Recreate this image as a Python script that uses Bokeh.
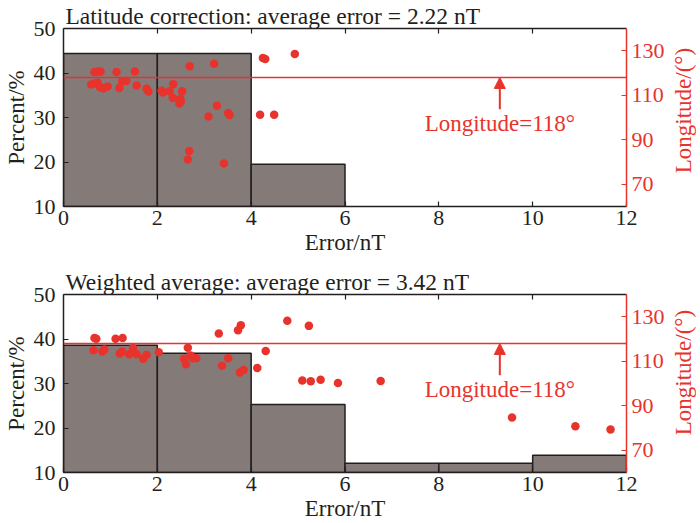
import math
from bokeh.plotting import figure
from bokeh.models import Range1d, LinearAxis, Span, Arrow, NormalHead, Label, FixedTicker
from bokeh.layouts import column, row
from bokeh.core.properties import value
from bokeh.embed import file_html
from bokeh.resources import INLINE

# ---------------- data ----------------
bin_edges = [0, 2, 4, 6, 8, 10, 12]

top_title = "Latitude correction: average error = 2.22 nT"
top_pct = [44.4, 44.4, 19.5]
top_err = [0.59, 0.66, 0.66, 0.73, 0.73, 0.78, 0.79, 0.85, 0.94, 1.13, 1.19, 1.25, 1.34, 1.52,
           1.56, 1.77, 1.81, 2.09, 2.12, 2.26, 2.33, 2.34, 2.47, 2.49, 2.50, 2.53, 2.65, 2.68,
           2.69, 3.09, 3.21, 3.27, 3.42, 3.51, 3.54, 4.19, 4.25, 4.30, 4.49, 4.93]
top_lon = [114.8, 120.4, 115.3, 120.7, 115.6, 113.6, 120.7, 113.2, 113.9, 120.4, 113.3, 116.2,
           116.4, 120.7, 114.4, 113.0, 111.7, 112.0, 111.2, 111.8, 108.8, 115.0, 106.3, 108.4,
           107.2, 111.8, 81.1, 84.9, 123.0, 100.4, 124.2, 105.3, 79.3, 102.0, 101.1, 101.2,
           126.7, 126.3, 101.2, 128.5]

bot_title = "Weighted average: average error = 3.42 nT"
bot_pct = [38.6, 36.8, 25.3, 12.1, 12.1, 13.9]
bot_err = [0.64, 0.66, 0.70, 0.83, 0.87, 1.11, 1.20, 1.25, 1.26, 1.40, 1.48, 1.56, 1.70, 1.77,
           2.03, 2.57, 2.61, 2.65, 2.71, 2.76, 2.83, 3.31, 3.38, 3.51, 3.72, 3.76, 3.78, 3.84,
           4.13, 4.31, 4.77, 5.09, 5.23, 5.27, 5.48, 5.85, 6.76, 9.56, 10.91, 11.66]
bot_lon = [114.9, 120.4, 120.1, 114.4, 115.3, 120.1, 113.5, 114.4, 120.4, 113.2, 115.9, 113.1,
           111.1, 112.9, 114.0, 111.1, 108.6, 116.1, 112.6, 111.4, 111.4, 122.5, 108.0, 111.4,
           123.9, 105.0, 126.2, 106.1, 107.0, 114.6, 128.2, 101.3, 125.9, 101.0, 101.7, 100.2,
           101.1, 84.7, 80.8, 79.3]

ref_lon = 118
ref_text = "Longitude=118\u00b0"
arrow_x = 9.3
arrow_start = 103.7
text_y = 97.3

x_ticks = [0, 2, 4, 6, 8, 10, 12]
pct_ticks = [10, 20, 30, 40, 50]
lon_ticks = [70, 90, 110, 130]
lon_labels = ["Longitude/(\u00b0)", "Longitude/(\u00b0)"]

# ---------------- style ----------------
RED = "#e8332d"
BLACK = "#231f20"
BAR = "#847b79"
FONT = "Liberation Serif"
STRIP_H = 512                 # height of the strip holding the right-hand titles
STRIP_Y = [110, 372]          # px from top: vertical centres of the two plot frames


def make(title, pct, err, lon):
    p = figure(frame_width=563, frame_height=178, x_range=Range1d(0, 12), y_range=Range1d(10, 50),
               output_backend="svg", toolbar_location=None,
               min_border_left=58, min_border_right=44, min_border_top=0, min_border_bottom=0)
    p.extra_y_ranges = {"lon": Range1d(60, 140)}
    p.outline_line_color = None
    p.xgrid.visible = False
    p.ygrid.visible = False
    p.background_fill_color = "white"
    p.border_fill_color = "white"

    p.title.text = title
    p.title.text_font = FONT
    p.title.text_font_size = "23.5px"
    p.title.text_font_style = "normal"
    p.title.text_color = BLACK
    p.title.align = "left"
    p.title.standoff = 0
    p.title.offset = 2

    n = len(pct)
    p.quad(left=bin_edges[:n], right=bin_edges[1:n + 1], bottom=10, top=pct,
           fill_color=BAR, line_color=BLACK, line_width=1.5)

    p.add_layout(Span(location=ref_lon, dimension="width", y_range_name="lon",
                      line_color=RED, line_width=1.5))

    p.scatter(err, lon, y_range_name="lon", size=8.5, marker="circle",
              fill_color=RED, line_color=None)

    p.add_layout(Arrow(end=NormalHead(size=11, fill_color=RED, line_color=RED),
                       x_start=arrow_x, y_start=arrow_start, x_end=arrow_x, y_end=ref_lon,
                       y_range_name="lon", line_color=RED, line_width=2))
    p.add_layout(Label(x=arrow_x, y=text_y, text=ref_text, y_range_name="lon",
                       text_align="center", text_baseline="middle", text_color=RED,
                       text_font=FONT, text_font_size="23px"))

    # bottom axis
    xa = p.xaxis[0]
    xa.ticker = FixedTicker(ticks=x_ticks)
    xa.axis_label = "Error/nT"
    ya = p.yaxis[0]
    ya.ticker = FixedTicker(ticks=pct_ticks)
    ya.axis_label = "Percent/%"
    for ax in (xa, ya):
        ax.major_tick_in = 5
        ax.major_tick_out = 0
        ax.minor_tick_in = 0
        ax.minor_tick_out = 0
        ax.axis_line_color = BLACK
        ax.axis_line_width = 1.5
        ax.major_tick_line_color = BLACK
        ax.major_tick_line_width = 1.2
        ax.major_label_text_font = FONT
        ax.major_label_text_font_size = "22px"
        ax.major_label_text_color = BLACK
        ax.axis_label_text_font = FONT
        ax.axis_label_text_font_size = "23px"
        ax.axis_label_text_font_style = "normal"
        ax.axis_label_text_color = BLACK
    xa.major_label_standoff = 4
    xa.axis_label_standoff = 2
    ya.major_label_standoff = 8
    ya.axis_label_standoff = 2

    # top axis (ticks only)
    ta = LinearAxis(ticker=FixedTicker(ticks=x_ticks[1:-1]),
                    major_label_overrides={t: "" for t in x_ticks[1:-1]},
                    major_label_standoff=0, major_tick_in=5, major_tick_out=0,
                    minor_tick_in=0, minor_tick_out=0, axis_line_color=BLACK,
                    axis_line_width=1.5, major_tick_line_color=BLACK, major_tick_line_width=1.2)
    p.add_layout(ta, "above")

    # right axis (its title is drawn in the strip so it reads bottom-to-top)
    ra = LinearAxis(y_range_name="lon", ticker=FixedTicker(ticks=lon_ticks))
    ra.major_tick_in = 5
    ra.major_tick_out = 0
    ra.minor_tick_in = 0
    ra.minor_tick_out = 0
    ra.axis_line_color = RED
    ra.axis_line_width = 1.5
    ra.major_tick_line_color = RED
    ra.major_tick_line_width = 1.2
    ra.major_label_text_font = FONT
    ra.major_label_text_font_size = "22px"
    ra.major_label_text_color = RED
    ra.major_label_standoff = 5
    p.add_layout(ra, "right")
    return p


p1 = make(top_title, top_pct, top_err, top_lon)
p2 = make(bot_title, bot_pct, bot_err, bot_lon)

strip = figure(width=26, height=STRIP_H, x_range=Range1d(0, 1), y_range=Range1d(STRIP_H, 0),
               output_backend="svg", toolbar_location=None, x_axis_location=None,
               y_axis_location=None, min_border=0)
strip.outline_line_color = None
strip.xgrid.visible = False
strip.ygrid.visible = False
strip.text(x=[0.5, 0.5], y=STRIP_Y, text=lon_labels, angle=math.pi / 2,
           text_align="center", text_baseline="middle", text_color=RED,
           text_font=value(FONT), text_font_size="23px")

layout = row(column(p1, p2, spacing=9), strip, spacing=0)

open("out.html", "w").write(file_html(layout, INLINE))
